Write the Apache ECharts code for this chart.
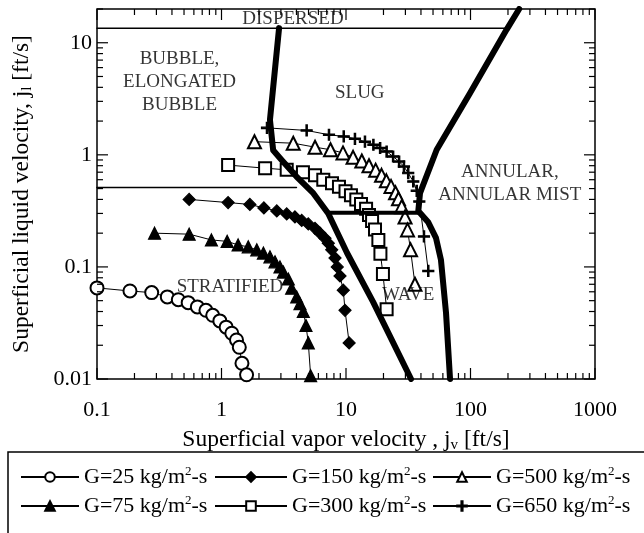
<!DOCTYPE html>
<html><head><meta charset="utf-8">
<script src="https://cdn.jsdelivr.net/npm/echarts@6/dist/echarts.min.js"></script>
<style>html,body{margin:0;padding:0;background:#fff}#c{width:644px;height:533px}</style>
</head><body><div id="c"></div>
<script>
const FONT = '"Liberation Serif", "Times New Roman", serif';

// ---- data (superficial vapor velocity jv [ft/s], superficial liquid velocity jl [ft/s]) ----
const g25 = [[0.1,0.065],[0.184,0.061],[0.275,0.059],[0.367,0.054],[0.45,0.051],[0.54,0.048],[0.64,0.044],[0.75,0.041],[0.85,0.037],[0.97,0.033],[1.09,0.029],[1.21,0.0256],[1.32,0.0223],[1.39,0.0192],[1.46,0.0138],[1.59,0.0109]];
const g75 = [[0.29,0.20],[0.55,0.196],[0.83,0.174],[1.11,0.169],[1.36,0.157],[1.64,0.151],[1.92,0.142],[2.17,0.133],[2.45,0.123],[2.69,0.111],[2.95,0.10],[3.14,0.090],[3.44,0.078],[3.66,0.0645],[4.02,0.054],[4.27,0.047],[4.54,0.040],[4.77,0.030],[4.98,0.021],[5.2,0.0107]];
const g150 = [[0.55,0.40],[1.13,0.375],[1.69,0.361],[2.19,0.336],[2.78,0.316],[3.34,0.297],[3.89,0.279],[4.41,0.26],[4.98,0.242],[5.64,0.221],[6.18,0.20],[6.78,0.18],[7.21,0.163],[7.68,0.142],[8.16,0.12],[8.51,0.10],[8.95,0.083],[9.51,0.062],[9.82,0.041],[10.6,0.021]];
const g300 = [[1.13,0.81],[2.24,0.76],[3.34,0.735],[4.51,0.70],[5.64,0.656],[6.57,0.598],[7.72,0.559],[8.78,0.518],[9.91,0.472],[10.96,0.435],[12.1,0.40],[13.2,0.365],[14.5,0.33],[15.3,0.291],[16.2,0.257],[17.1,0.216],[18.2,0.174],[18.9,0.131],[19.8,0.0866],[21.2,0.042]];
const g500 = [[1.84,1.31],[3.77,1.27],[5.64,1.17],[7.51,1.11],[9.46,1.04],[11.4,0.95],[13.4,0.88],[15.3,0.80],[17.3,0.73],[19.3,0.656],[21.1,0.586],[23.0,0.523],[25.0,0.458],[26.4,0.405],[28.0,0.345],[29.8,0.279],[31.2,0.214],[33.0,0.142],[35.8,0.070]];
const g650 = [[2.32,1.74],[4.83,1.65],[7.30,1.51],[9.59,1.46],[11.8,1.39],[14.2,1.31],[16.6,1.23],[18.8,1.15],[21.2,1.07],[23.9,0.966],[26.7,0.871],[29.2,0.786],[31.6,0.687],[34.7,0.578],[37.0,0.477],[38.8,0.383],[42.3,0.187],[45.8,0.092]];

// ---- flow regime boundaries ----
const dispersedLine = [[0.1,13.5],[195,13.5]];
const bubbleLine = [[0.1,0.51],[4.0,0.51]];
const waveLine = [[7.2,0.305],[38.1,0.305]];
const leftBoundary = [[2.9,13.5],[2.45,2.05],[2.6,1.1],[3.04,0.9],[4.0,0.64],[5.46,0.455],[7.2,0.30],[10.2,0.133],[16.5,0.0487],[33.3,0.01]];
const rightBoundary = [[246,20],[195,13.1],[99,3.55],[53.5,1.11],[39.3,0.455],[38.1,0.316],[45.6,0.252],[52.8,0.1815],[57.9,0.1155],[63.6,0.0388],[68.5,0.01]];

// ---- region labels ----
const regionNames = ['DISPERSED','BUBBLE,\nELONGATED\nBUBBLE','SLUG','ANNULAR,\nANNULAR MIST','STRATIFIED','WAVE'];
const regionPos = [[3.75,16.4],[0.46,4.49],[12.9,3.58],[207,0.557],[1.17,0.0663],[31.6,0.056]];

// ---- axes / ticks ----
const xMajorTicks = [0.1,1,10,100,1000];
const yMajorTicks = [0.01,0.1,1,10];
const minorMultipliers = [2,3,4,5,6,7,8,9];
const xMin = 0.1, xMax = 1000, yMin = 0.01, yMax = 20;
const seriesNames = ['G=25','G=75','G=150','G=300','G=500','G=650'];

const tickData = [];
xMajorTicks.forEach(v => tickData.push([v, 1, 1]));
yMajorTicks.forEach(v => tickData.push([1, v, 3]));
xMajorTicks.forEach(d => minorMultipliers.forEach(m => { const v = d*m; if (v < xMax) tickData.push([v, 1, 0]); }));
yMajorTicks.forEach(d => minorMultipliers.forEach(m => { const v = d*m; if (v <= yMax) tickData.push([1, v, 2]); }));

const fmt = v => { const l = Math.log10(v); return Math.abs(l - Math.round(l)) < 1e-6 ? String(+v.toPrecision(6)) : ''; };

const CROSS = 'path://M4.4,0H5.6V4.4H10V5.6H5.6V10H4.4V5.6H0V4.4H4.4Z';
function dataSeries(name, data, symbol, size) {
  return { type:'line', name, data, symbol, symbolSize:size, showSymbol:true, z:2,
    lineStyle:{color:'#000', width:1},
    itemStyle:{color:'#000', borderColor:'#000', borderWidth:1.2} };
}
function boundary(data, w) {
  return { type:'line', data, symbol:'none', z:3, silent:true,
    lineStyle:{color:'#000', width:w, cap:'round', join:'round'} };
}
const legendRich = { sup:{fontSize:13, fontFamily:FONT, verticalAlign:'top', lineHeight:12, color:'#000'} };
function legendAt(name, left, top, w) {
  return { data:[name], left, top, itemWidth:w, itemHeight:12, itemGap:0, padding:0,
    formatter: n => n + ' kg/m{sup|2}-s',
    textStyle:{fontFamily:FONT, fontSize:22, color:'#000', lineHeight:24, rich:legendRich} };
}
const subRich = { sub:{fontSize:15, fontFamily:FONT, verticalAlign:'bottom', lineHeight:15, color:'#000'} };

const chart = echarts.init(document.getElementById('c'));
chart.setOption({
  animation:false,
  backgroundColor:'#fff',
  grid:{left:97, right:49, top:9, bottom:154, show:true, borderColor:'#000', borderWidth:1.5},
  xAxis:{type:'log', logBase:10, min:xMin, max:xMax,
    axisLine:{show:false}, axisTick:{show:false}, splitLine:{show:false},
    axisLabel:{fontFamily:FONT, fontSize:22, color:'#000', margin:20, formatter:fmt},
    name:'Superficial vapor velocity , j{sub|v} [ft/s]', nameLocation:'middle', nameGap:36,
    nameTextStyle:{fontFamily:FONT, fontSize:23.5, color:'#000', lineHeight:27, rich:subRich}},
  yAxis:{type:'log', logBase:10, min:yMin, max:yMax,
    axisLine:{show:false}, axisTick:{show:false}, splitLine:{show:false},
    axisLabel:{fontFamily:FONT, fontSize:22, color:'#000', margin:5, formatter:fmt},
    name:'Superficial liquid velocity, j{sub|l} [ft/s]', nameLocation:'middle', nameGap:62,
    nameTextStyle:{fontFamily:FONT, fontSize:23.5, color:'#000', lineHeight:27, rich:subRich}},
  legend:[
    legendAt(seriesNames[0], 20, 465, 58), legendAt(seriesNames[1], 20, 494, 58),
    legendAt(seriesNames[2], 214, 465, 72), legendAt(seriesNames[3], 214, 494, 72),
    legendAt(seriesNames[4], 432, 465, 58), legendAt(seriesNames[5], 432, 494, 58)
  ],
  graphic:[{type:'rect', silent:true, shape:{x:8, y:452, width:700, height:120},
    style:{fill:'none', stroke:'#000', lineWidth:1.5}}],
  series:[
    dataSeries(seriesNames[0], g25, 'emptyCircle', 13),
    dataSeries(seriesNames[1], g75, 'triangle', 12),
    dataSeries(seriesNames[2], g150, 'diamond', 12),
    dataSeries(seriesNames[3], g300, 'emptyRect', 12),
    dataSeries(seriesNames[4], g500, 'emptyTriangle', 13),
    dataSeries(seriesNames[5], g650, CROSS, 11),
    boundary(dispersedLine, 1.5),
    boundary(bubbleLine, 1.5),
    boundary(waveLine, 4),
    boundary(leftBoundary, 6),
    boundary(rightBoundary, 6),
    { type:'scatter', symbolSize:0, z:4, silent:true,
      data: regionNames.map((n, i) => ({name:n, value:regionPos[i]})),
      label:{show:true, position:'inside', formatter:p => p.name, fontFamily:FONT, fontSize:19,
        lineHeight:23, color:'#000', align:'center', verticalAlign:'middle'} },
    { type:'custom', data:tickData, encode:{x:0, y:1}, silent:true, clip:false, z:5,
      renderItem(params, api) {
        const kind = api.value(2);
        const cs = params.coordSys;
        const len = (kind === 1 || kind === 3) ? 11 : 6;
        const st = {stroke:'#000', lineWidth:1.2};
        if (kind < 2) {
          const px = api.coord([api.value(0), 1])[0];
          return {type:'group', children:[
            {type:'line', shape:{x1:px, y1:cs.y+cs.height, x2:px, y2:cs.y+cs.height-len}, style:st},
            {type:'line', shape:{x1:px, y1:cs.y, x2:px, y2:cs.y+len}, style:st}]};
        }
        const py = api.coord([1, api.value(1)])[1];
        return {type:'group', children:[
          {type:'line', shape:{x1:cs.x, y1:py, x2:cs.x+len, y2:py}, style:st},
          {type:'line', shape:{x1:cs.x+cs.width, y1:py, x2:cs.x+cs.width-len, y2:py}, style:st}]};
      } }
  ]
});
</script></body></html>
